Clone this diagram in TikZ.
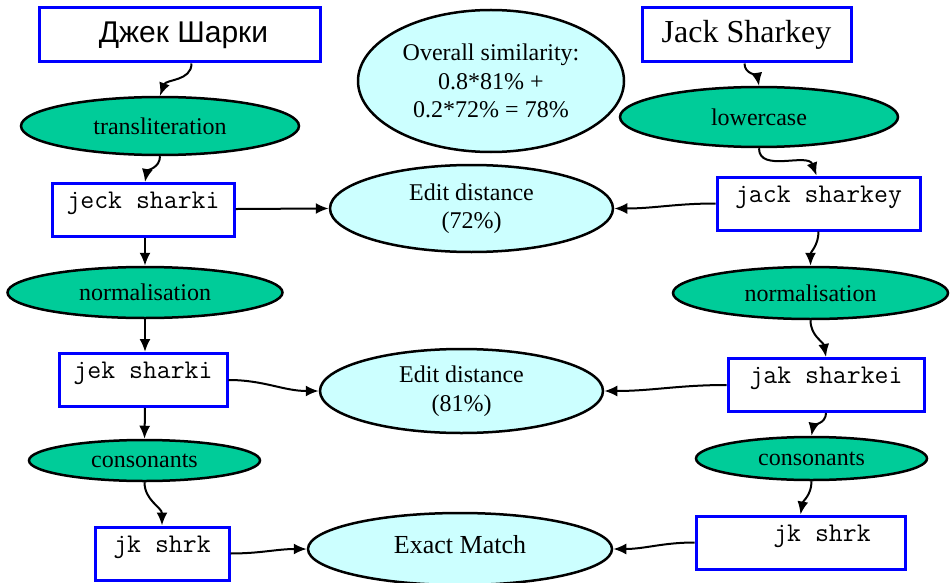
\documentclass[tikz,border=0pt]{standalone}
\usepackage{fontspec}
\setmainfont{Liberation Serif}
\newfontfamily\arialfont{Liberation Sans}
\usetikzlibrary{shapes.geometric,arrows.meta}
\definecolor{stepgreen}{RGB}{0,204,153}
\definecolor{scorecyan}{RGB}{204,255,255}
\begin{document}
\begin{tikzpicture}[x=1pt,y=-1pt,
  namebox/.style={draw=blue,line width=3pt,rectangle,inner sep=0pt,minimum height=54pt},
  strbox/.style={draw=blue,line width=3pt,rectangle,inner xsep=0pt,inner ysep=5pt,
    text height=20pt,text depth=23pt,font=\ttfamily\fontsize{27}{30}\selectfont},
  stepell/.style={draw,ellipse,line width=2.5pt,fill=stepgreen,inner sep=0pt,
    font=\fontsize{24}{28.5}\selectfont},
  scoreell/.style={draw,ellipse,line width=2.5pt,fill=scorecyan,inner sep=0pt,align=center,
    font=\fontsize{24}{28.5}\selectfont},
  conn/.style={line width=2pt,-{Latex[length=13pt,width=11pt]}}]
  \useasboundingbox (0,0) rectangle (950,583);

  % Left column (Russian name)
  \node[namebox,minimum width=281pt,font=\arialfont\fontsize{30}{36}\selectfont] (ru) at (179.5,35) {\hspace*{8pt}Джек Шарки};
  \node[stepell,minimum width=278pt,minimum height=58pt] (translit) at (160,126) {transliteration};
  \node[strbox,minimum width=182pt] (jeck) at (143,210) {jeck sharki};
  \node[stepell,minimum width=275pt,minimum height=51pt] (normL) at (145,292.5) {normalisation};
  \node[strbox,minimum width=168pt] (jek) at (143,380) {jek sharki};
  \node[stepell,minimum width=231pt,minimum height=41pt] (consL) at (144.5,460.5) {consonants};
  \node[strbox,minimum width=134pt] (jkL) at (162,553.5) {jk shrk};

  % Right column (English name)
  \node[namebox,minimum width=209pt,font=\fontsize{32}{38}\selectfont] (en) at (746.5,35) {Jack Sharkey};
  \node[stepell,minimum width=278pt,minimum height=60pt] (lower) at (759,117) {lowercase};
  \node[strbox,minimum width=203pt] (jack) at (818.5,203.5) {jack sharkey};
  \node[stepell,minimum width=275pt,minimum height=52pt] (normR) at (810.5,293) {normalisation};
  \node[strbox,minimum width=196pt] (jak) at (826,385) {jak sharkei};
  \node[stepell,minimum width=231pt,minimum height=43pt] (consR) at (811.5,458.5) {consonants};
  \node[strbox,minimum width=209pt] (jkR) at (800.5,542.5) {\hspace*{43pt}jk shrk};

  % Scores in the middle
  \node[scoreell,minimum width=266pt,minimum height=142pt] (overall) at (491,81)
    {Overall similarity:\\0.8*81\% +\\0.2*72\% = 78\%};
  \node[scoreell,minimum width=283pt,minimum height=87pt] (ed72) at (471.5,208.5) {Edit distance\\(72\%)};
  \node[scoreell,minimum width=283pt,minimum height=84pt] (ed81) at (461.5,391) {Edit distance\\(81\%)};
  \node[scoreell,minimum width=304pt,minimum height=72pt,text depth=10pt,font=\fontsize{26}{30}\selectfont] (exact) at (460,549) {Exact Match};

  % Left arrows
  \draw[conn] ([xshift=12pt]ru.south) to[out=-90,in=70] (translit.north);
  \draw[conn] (translit.south) to[out=-90,in=80] ([xshift=2pt]jeck.north);
  \draw[conn] ([xshift=2pt]jeck.south) -- (normL.north);
  \draw[conn] (normL.south) -- ([xshift=2pt]jek.north);
  \draw[conn] ([xshift=2pt]jek.south) -- (consL.north);
  \draw[conn] (consL.south) to[out=-90,in=90] (jkL.north);
  \draw[conn] ([yshift=1pt]jeck.east) to[out=0,in=180] (ed72.west);
  \draw[conn] (jek.east) to[out=0,in=180] (ed81.west);
  \draw[conn] (jkL.east) to[out=0,in=180] (exact.west);

  % Right arrows
  \draw[conn] ([xshift=-2pt]en.south) to[out=-90,in=100] (lower.north);
  \draw[conn] (lower.south) to[out=-90,in=110] ([xshift=-2pt]jack.north);
  \draw[conn] (jack.west) to[out=180,in=0] (ed72.east);
  \draw[conn] (jack.south) to[out=-90,in=90] (normR.north);
  \draw[conn] (normR.south) to[out=-90,in=100] (jak.north);
  \draw[conn] (jak.south) to[out=-90,in=80] (consR.north);
  \draw[conn] (consR.south) to[out=-90,in=80] (jkR.north);
  \draw[conn] (jak.west) to[out=180,in=0] (ed81.east);
  \draw[conn] (jkR.west) to[out=180,in=0] (exact.east);
\end{tikzpicture}
\end{document}
